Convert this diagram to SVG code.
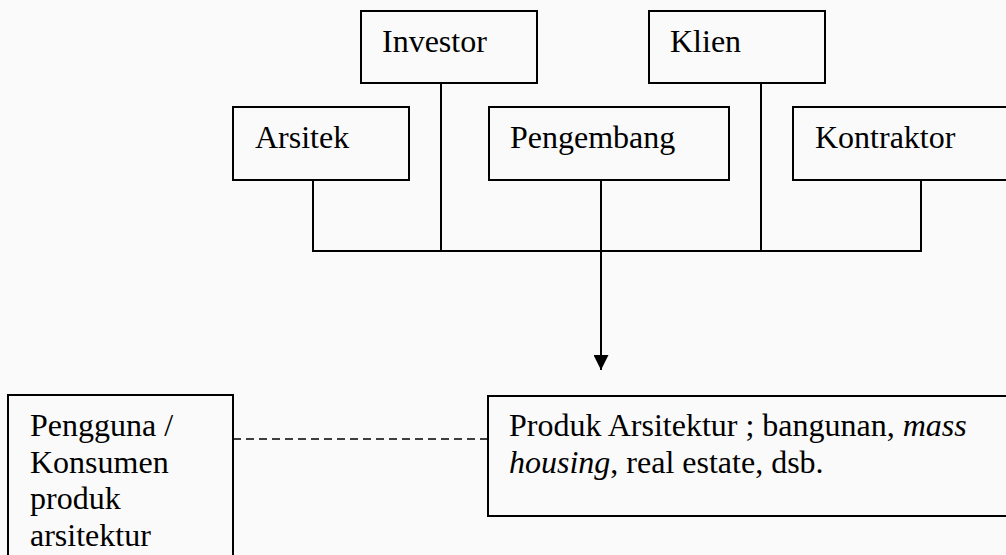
<svg xmlns="http://www.w3.org/2000/svg" width="1006" height="555" viewBox="0 0 1006 555">
  <style>
    .box { fill: none; stroke: #000; stroke-width: 2; }
    .lbl { font-family: "Liberation Serif", "Times New Roman", serif; font-size: 32px; fill: #000; }
    .ln { fill: none; stroke: #000; stroke-width: 2; }
    .dash { fill: none; stroke: #000; stroke-width: 1.5; stroke-dasharray: 8 5; }
  </style>
  <defs>
    <marker id="arrow" viewBox="0 0 10 10" refX="10" refY="5" markerWidth="7.5" markerHeight="7.5" markerUnits="strokeWidth" orient="auto">
      <path d="M0,0 L10,5 L0,10 Z" fill="#000"/>
    </marker>
  </defs>
  <rect x="0" y="0" width="1006" height="555" fill="#fafafa"/>
  <g id="investor">
    <rect class="box" x="361" y="11" width="176" height="72"/>
    <text class="lbl" x="382" y="52">Investor</text>
  </g>
  <g id="klien">
    <rect class="box" x="649" y="11" width="176" height="72"/>
    <text class="lbl" x="670" y="52">Klien</text>
  </g>
  <g id="arsitek">
    <rect class="box" x="233" y="107" width="176" height="73"/>
    <text class="lbl" x="255" y="148">Arsitek</text>
  </g>
  <g id="pengembang">
    <rect class="box" x="489" y="107" width="240" height="73"/>
    <text class="lbl" x="510" y="148">Pengembang</text>
  </g>
  <g id="kontraktor">
    <rect class="box" x="793" y="107" width="220" height="73"/>
    <text class="lbl" x="815" y="148">Kontraktor</text>
  </g>
  <g id="produk">
    <rect class="box" x="488" y="396" width="525" height="120"/>
    <text class="lbl" x="509" y="436">Produk Arsitektur ; bangunan, <tspan font-style="italic">mass</tspan></text>
    <text class="lbl" x="509" y="473"><tspan font-style="italic">housing</tspan>, real estate, dsb.</text>
  </g>
  <g id="pengguna">
    <rect class="box" x="8" y="395" width="225" height="170"/>
    <text class="lbl" x="30" y="436">Pengguna /</text>
    <text class="lbl" x="30" y="473">Konsumen</text>
    <text class="lbl" x="30" y="509">produk</text>
    <text class="lbl" x="30" y="546">arsitektur</text>
  </g>
  <g id="connectors">
    <polyline class="ln" points="313,180 313,251 921,251 921,180"/>
    <line class="ln" x1="441" y1="83" x2="441" y2="251"/>
    <line class="ln" x1="761" y1="83" x2="761" y2="251"/>
    <line class="ln" x1="601" y1="180" x2="601" y2="251"/>
    <line class="ln" x1="601" y1="251" x2="601" y2="370" marker-end="url(#arrow)"/>
    <line class="dash" x1="233" y1="439" x2="488" y2="439"/>
  </g>
</svg>
